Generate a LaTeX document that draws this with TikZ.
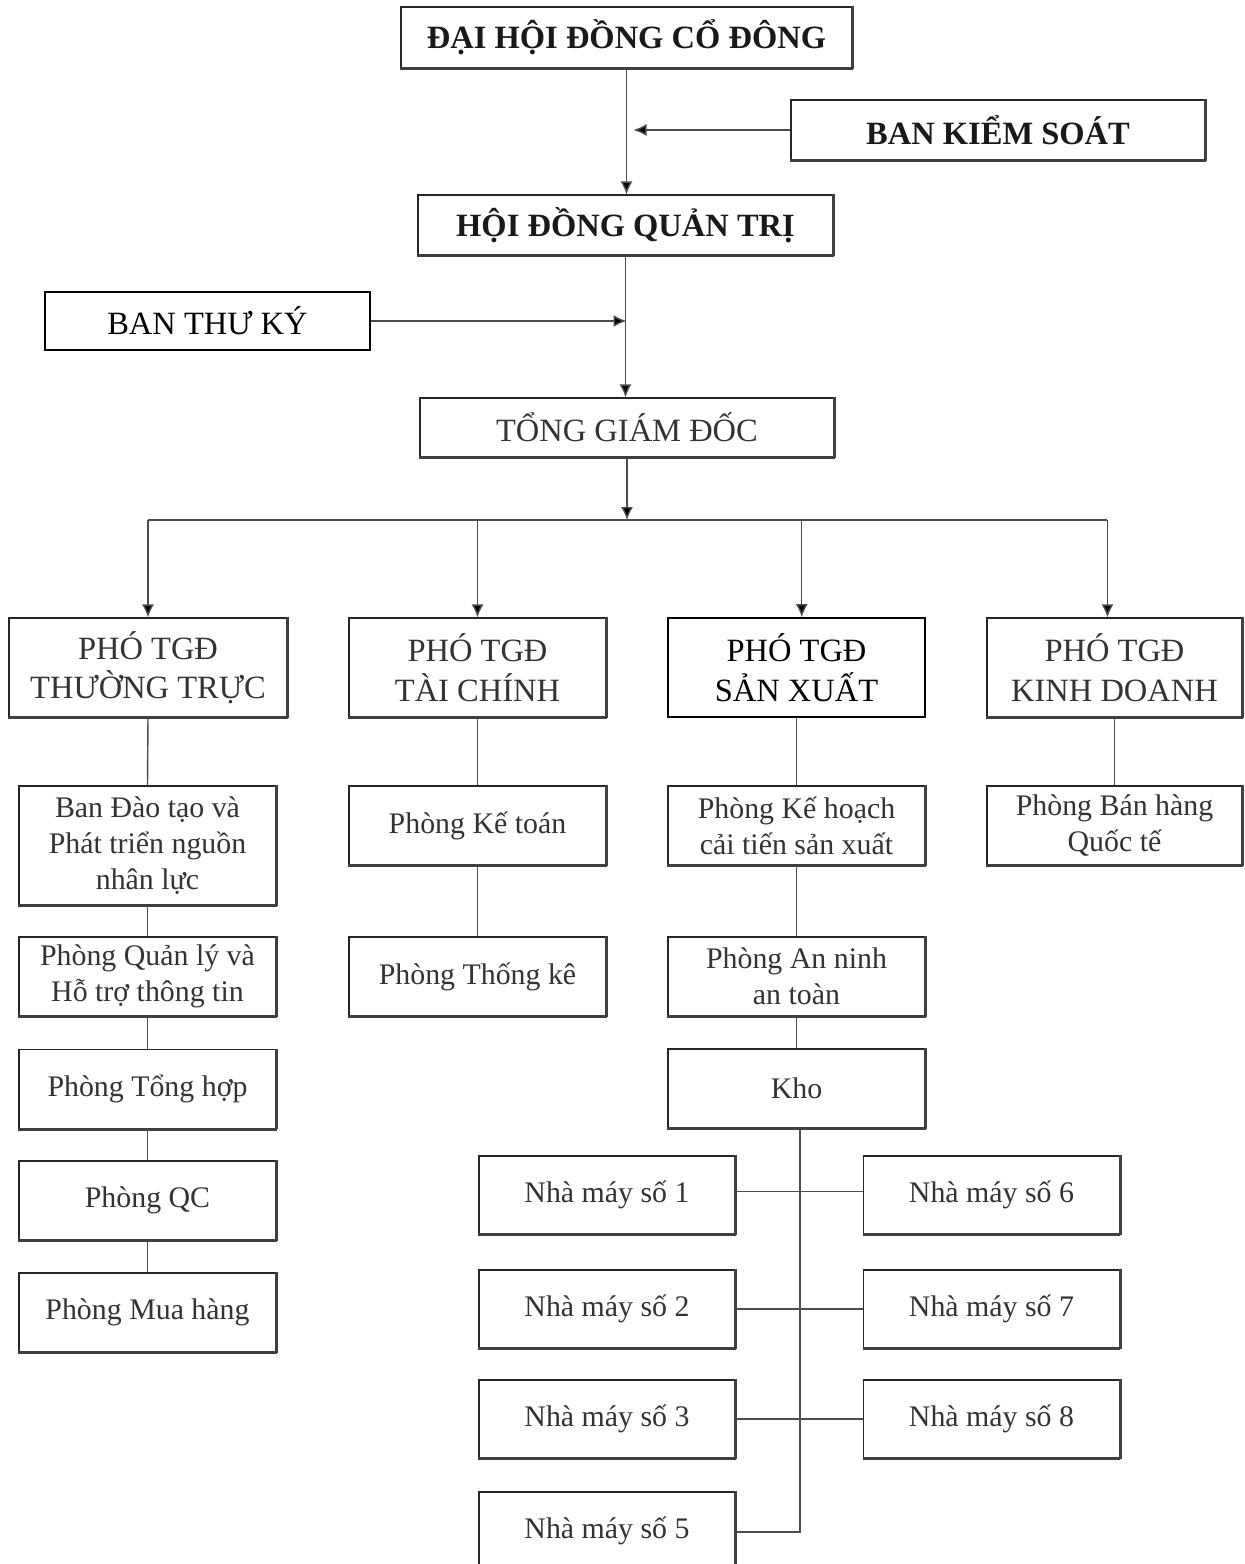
\documentclass[tikz,border=0pt]{standalone}
\usepackage{fontspec}
\setmainfont{Liberation Serif}
\usetikzlibrary{arrows.meta}

\tikzset{
  box/.style={draw=black!85, line width=0.7pt, fill=white, align=center, inner sep=2pt,
    text=black!80, font=\fontsize{17}{20.5}\selectfont,
    append after command={(\tikzlastnode.south west) edge[line width=1.7pt, draw=black!75] (\tikzlastnode.south east)
      (\tikzlastnode.south east) edge[line width=1.7pt, draw=black!75] (\tikzlastnode.north east)}},
  flatbox/.style={draw=black, line width=1pt, fill=white, align=center, inner sep=2pt,
    font=\fontsize{18.5}{22.5}\selectfont},
  topbox/.style={box, text=black!90, font=\fontsize{18.5}{21}\selectfont\bfseries, minimum height=1.2cm},
  phobox/.style={box, font=\fontsize{18.5}{22.5}\selectfont, minimum height=1.98cm},
  subbox/.style={box, minimum width=5.14cm, minimum height=1.58cm},
  plantbox/.style={box, font=\fontsize{17}{20}\selectfont, minimum width=5.12cm, minimum height=1.56cm},
  link/.style={draw=black!70, line width=0.8pt},
  arr/.style={link, -{Latex[length=2.6mm,width=2.4mm,fill=black]}}
}

\begin{document}
\begin{tikzpicture}[x=0.02cm, y=-0.02cm]
\useasboundingbox (0,0) rectangle (1244,1564);

\node[topbox, minimum width=9.02cm, minimum height=1.22cm] (dhcd) at (626.5,37.5) {ĐẠI HỘI ĐỒNG CỔ ĐÔNG};
\node[topbox, minimum width=8.28cm] (bks) at (998,130) {BAN KIỂM SOÁT};
\node[topbox, minimum width=8.3cm] (hdqt) at (625.5,225) {HỘI ĐỒNG QUẢN TRỊ};
\node[flatbox, minimum width=6.5cm, minimum height=1.16cm] (btk) at (207.5,321) {BAN THƯ KÝ};
\node[box, font=\fontsize{18.5}{22.5}\selectfont, minimum width=8.28cm, minimum height=1.18cm] (tgd) at (627,427.5) {TỔNG GIÁM ĐỐC};

\node[phobox, minimum width=5.56cm] (ptt) at (148,667.5) {PHÓ TGĐ\\THƯỜNG TRỰC};
\node[phobox, minimum width=5.14cm] (ptc) at (477.5,667.5) {PHÓ TGĐ\\TÀI CHÍNH};
\node[flatbox, minimum width=5.14cm, minimum height=1.98cm] (psx) at (796.5,667.5) {PHÓ TGĐ\\SẢN XUẤT};
\node[phobox, minimum width=5.1cm] (pkd) at (1114.5,667.5) {PHÓ TGĐ\\KINH DOANH};

\node[subbox, minimum height=2.38cm] (daotao) at (147.5,845.5) {Ban Đào tạo và\\Phát triển nguồn\\nhân lực};
\node[subbox] (qlht) at (147.5,976.5) {Phòng Quản lý và\\Hỗ trợ thông tin};
\node[subbox] (tonghop) at (147.5,1089) {Phòng Tổng hợp};
\node[subbox] (qc) at (147.5,1200.5) {Phòng QC};
\node[subbox] (muahang) at (147.5,1312.5) {Phòng Mua hàng};

\node[subbox] (ketoan) at (477.5,825.5) {Phòng Kế toán};
\node[subbox] (thongke) at (477.5,976.5) {Phòng Thống kê};

\node[subbox] (kehoach) at (796.5,825.5) {Phòng Kế hoạch\\cải tiến sản xuất};
\node[subbox] (anninh) at (796.5,976.5) {Phòng An ninh\\an toàn};
\node[subbox] (kho) at (796.5,1088.5) {Kho};

\node[subbox, minimum width=5.1cm] (banhang) at (1114.5,825.5) {Phòng Bán hàng\\Quốc tế};

\node[plantbox] (nm1) at (607,1195) {Nhà máy số 1};
\node[plantbox] (nm2) at (607,1309) {Nhà máy số 2};
\node[plantbox] (nm3) at (607,1419) {Nhà máy số 3};
\node[plantbox] (nm5) at (607,1531) {Nhà máy số 5};
\node[plantbox] (nm6) at (991.5,1195) {Nhà máy số 6};
\node[plantbox] (nm7) at (991.5,1309) {Nhà máy số 7};
\node[plantbox] (nm8) at (991.5,1419) {Nhà máy số 8};

\coordinate (bus) at (627,520);
\coordinate (kbot) at (800,1532);

\draw[arr] (dhcd.south) -- (dhcd.south |- hdqt.north);
\draw[arr] (bks.west) -- ([xshift=4] dhcd.south |- bks.west);
\draw[arr] (btk.east) -- (dhcd.south |- btk.east);
\draw[arr] (hdqt.south) -- (hdqt.south |- tgd.north);
\draw[arr] (tgd.south) -- (bus);
\draw[link] (ptt.north |- bus) -- ([xshift=-4] pkd.north |- bus);
\draw[arr] (ptt.north |- bus) -- (ptt.north);
\draw[arr] (ptc.north |- bus) -- (ptc.north);
\draw[arr] ([xshift=3] psx.north |- bus) -- ([xshift=3] psx.north);
\draw[arr] ([xshift=-4] pkd.north |- bus) -- ([xshift=-4] pkd.north);

\draw[link] (ptt.south) -- (daotao.north);
\draw[link] (daotao.south) -- (qlht.north);
\draw[link] (qlht.south) -- (tonghop.north);
\draw[link] (tonghop.south) -- (qc.north);
\draw[link] (qc.south) -- (muahang.north);

\draw[link] (ptc.south) -- (ketoan.north);
\draw[link] (ketoan.south) -- (thongke.north);

\draw[link] (psx.south) -- (kehoach.north);
\draw[link] (kehoach.south) -- (anninh.north);
\draw[link] (anninh.south) -- (kho.north);
\draw[link] (kho.south -| kbot) -- (kbot) -- (nm5.east |- kbot);

\draw[link] (pkd.south) -- (banhang.north);

\draw[link] ([yshift=2] nm1.east) -- ([yshift=2] nm6.west);
\draw[link] (nm2.east) -- (nm7.west);
\draw[link] (nm3.east) -- (nm8.west);

\end{tikzpicture}
\end{document}
